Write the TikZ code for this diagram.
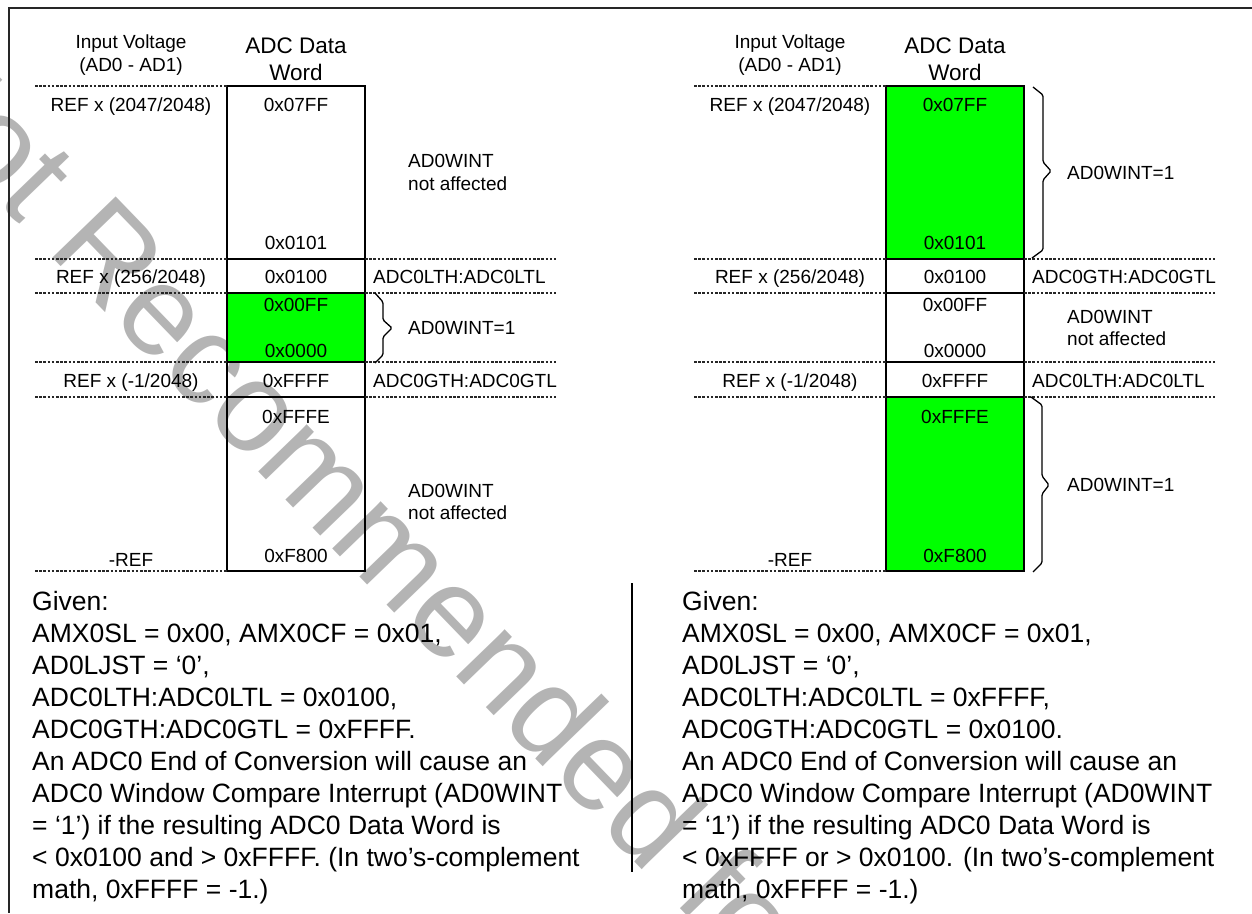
\documentclass[tikz,border=0pt]{standalone}
\usepackage{fontspec}
\setmainfont{Liberation Sans}
\definecolor{wmgray}{RGB}{180,180,180}
\definecolor{grn}{RGB}{0,255,0}
\begin{document}
\begin{tikzpicture}[x=1pt,y=-1pt,
  sm/.style={font=\fontsize{19}{23}\selectfont, inner sep=0pt, anchor=base},
  smw/.style={sm, anchor=base west},
  hdr/.style={font=\fontsize{22.5}{27}\selectfont, inner sep=0pt, anchor=base},
  body/.style={font=\fontsize{26.5}{32}\selectfont, inner sep=0pt, anchor=base west},
  dotl/.style={line width=1.2pt, dash pattern=on 2.6pt off 1.6pt, black!85},
  cellbox/.style={line width=1.4pt, black},
  bracel/.style={line width=1.3pt, black, rounded corners=1.5pt},
  wm/.style={font=\fontsize{128}{128}\selectfont, text=wmgray, inner sep=0pt, anchor=base west, rotate=-46}]
\useasboundingbox (0,0) rectangle (1252,913);
% watermark
\node[wm] (wmark) at (-118,82) {Not Recommended for New Designs};
% frame
\coordinate (ftl) at (9,8);
\coordinate (ftr) at (1252,8);
\coordinate (fbl) at (9,913);
\draw[line width=2.5pt, black!85] (ftr) -- (ftl) -- (fbl);
% ---------- left diagram ----------
\fill[grn] (227,293) rectangle (365,362);
\draw[cellbox] (227,86) rectangle (365,571);
\foreach \yy in {259,293,362,397} \draw[cellbox] (227,\yy) -- (365,\yy);
\foreach \yy in {86,259,293,362,397,571} \draw[dotl] (35,\yy) -- (227,\yy);
\foreach \yy in {259,293,362,397} \draw[dotl] (365,\yy) -- (556,\yy);
\node[sm] (la1) at (131,48) {Input Voltage};
\node[sm] (la2) at (131,71) {(AD0 - AD1)};
\node[hdr] (lb1) at (296,53) {ADC Data};
\node[hdr] (lb2) at (296,80) {Word};
\node[sm] (lr1) at (131,111) {REF x (2047/2048)};
\node[sm] (lv1) at (296,111) {0x07FF};
\node[sm] (lv2) at (296,249) {0x0101};
\node[smw] (ln1) at (408,167) {AD0WINT};
\node[smw] (ln2) at (408,190) {not affected};
\node[sm] (lr2) at (131,283) {REF x (256/2048)};
\node[sm] (lv3) at (296,283) {0x0100};
\node[smw] (lt1) at (373,283) {ADC0LTH:ADC0LTL};
\node[sm] (lv4) at (296,311) {0x00FF};
\node[sm] (lv5) at (296,357) {0x0000};
\node[smw] (lw1) at (408,334) {AD0WINT=1};
\node[sm] (lr3) at (131,387) {REF x (-1/2048)};
\node[sm] (lv6) at (296,387) {0xFFFF};
\node[smw] (lt2) at (373,387) {ADC0GTH:ADC0GTL};
\node[sm] (lv7) at (296,423) {0xFFFE};
\node[smw] (ln3) at (408,497) {AD0WINT};
\node[smw] (ln4) at (408,519) {not affected};
\node[sm] (lv8) at (296,562) {0xF800};
\node[sm] (lr4) at (131,566) {-REF};
\draw[bracel] (375,293) -- (383,302) -- (383,320) -- (392,328) -- (383,337) -- (383,355) -- (375,363);
% ---------- right diagram ----------
\fill[grn] (886,86) rectangle (1024,259);
\fill[grn] (886,397) rectangle (1024,571);
\draw[cellbox] (886,86) rectangle (1024,571);
\foreach \yy in {259,293,362,397} \draw[cellbox] (886,\yy) -- (1024,\yy);
\foreach \yy in {86,259,293,362,397,571} \draw[dotl] (694,\yy) -- (886,\yy);
\foreach \yy in {259,293,362,397} \draw[dotl] (1024,\yy) -- (1215,\yy);
\node[sm] (ra1) at (790,48) {Input Voltage};
\node[sm] (ra2) at (790,71) {(AD0 - AD1)};
\node[hdr] (rb1) at (955,53) {ADC Data};
\node[hdr] (rb2) at (955,80) {Word};
\node[sm] (rr1) at (790,111) {REF x (2047/2048)};
\node[sm] (rv1) at (955,111) {0x07FF};
\node[sm] (rv2) at (955,249) {0x0101};
\node[smw] (rw1) at (1067,179) {AD0WINT=1};
\node[sm] (rr2) at (790,283) {REF x (256/2048)};
\node[sm] (rv3) at (955,283) {0x0100};
\node[smw] (rt1) at (1032,283) {ADC0GTH:ADC0GTL};
\node[sm] (rv4) at (955,311) {0x00FF};
\node[sm] (rv5) at (955,357) {0x0000};
\node[smw] (rn1) at (1067,323) {AD0WINT};
\node[smw] (rn2) at (1067,345) {not affected};
\node[sm] (rr3) at (790,387) {REF x (-1/2048)};
\node[sm] (rv6) at (955,387) {0xFFFF};
\node[smw] (rt2) at (1032,387) {ADC0LTH:ADC0LTL};
\node[sm] (rv7) at (955,423) {0xFFFE};
\node[smw] (rw2) at (1067,491) {AD0WINT=1};
\node[sm] (rv8) at (955,562) {0xF800};
\node[sm] (rr4) at (790,566) {-REF};
\draw[bracel] (1033,87) -- (1043,95) -- (1043,162) -- (1051,171) -- (1043,180) -- (1043,250) -- (1032,258);
\draw[bracel] (1031,397) -- (1042,405) -- (1042,476) -- (1049,485) -- (1042,494) -- (1042,563) -- (1033,572);
% ---------- separator ----------
\coordinate (sept) at (632,583);
\coordinate (sepb) at (632,872);
\draw[line width=2pt, black] (sept) -- (sepb);
% ---------- texts ----------
\foreach \t [count=\i from 0] in {{Given:},{AMX0SL = 0x00, AMX0CF = 0x01,},{AD0LJST = ‘0’,},{ADC0LTH:ADC0LTL = 0x0100,},{ADC0GTH:ADC0GTL = 0xFFFF.},{An ADC0 End of Conversion will cause an},{ADC0 Window Compare Interrupt (AD0WINT},{= ‘1’) if the resulting ADC0 Data Word is},{< 0x0100 and > 0xFFFF. (In two’s-complement},{math, 0xFFFF = -1.)}}
  \node[body] (gl\i) at (32,610+32*\i) {\t};
\foreach \t [count=\i from 0] in {{Given:},{AMX0SL = 0x00, AMX0CF = 0x01,},{AD0LJST = ‘0’,},{ADC0LTH:ADC0LTL = 0xFFFF,},{ADC0GTH:ADC0GTL = 0x0100.},{An ADC0 End of Conversion will cause an},{ADC0 Window Compare Interrupt (AD0WINT},{= ‘1’) if the resulting ADC0 Data Word is},{< 0xFFFF or > 0x0100. (In two’s-complement},{math, 0xFFFF = -1.)}}
  \node[body] (gr\i) at (682,610+32*\i) {\t};
\end{tikzpicture}
\end{document}
